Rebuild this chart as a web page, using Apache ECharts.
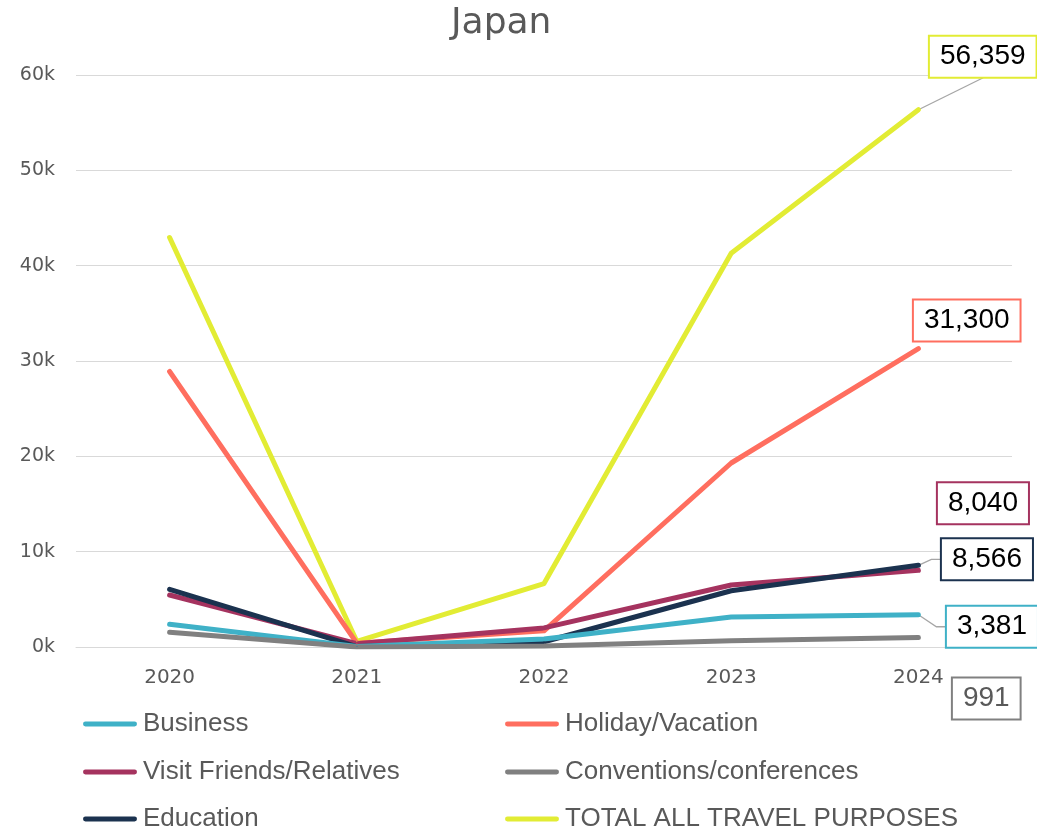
<!DOCTYPE html>
<html><head><meta charset="utf-8">
<script src="https://cdn.jsdelivr.net/npm/echarts@6/dist/echarts.min.js"></script>
<style>html,body{margin:0;padding:0;background:#fff}#c{width:1037px;height:832px}</style>
</head><body><div id="c"></div>
<script>
const years = ['2020','2021','2022','2023','2024'];
const business = [2380, 50, 850, 3150, 3381];
const holiday = [28900, 400, 1700, 19300, 31300];
const vfr = [5450, 350, 2000, 6500, 8040];
const conventions = [1540, 0, 100, 650, 991];
const education = [6050, 50, 550, 5900, 8566];
const total = [42950, 600, 6650, 41300, 56359];
const yTicks = [0, 10000, 20000, 30000, 40000, 50000, 60000];

const seriesDefs = [
  {name:'Business', data:business, color:'#3fb1c7', text:'#000', lab:{dx:28, dy:12}, line:'side'},
  {name:'Holiday/Vacation', data:holiday, color:'#ff6e5f', text:'#000', lab:{dx:-5, dy:-28}, line:null},
  {name:'Visit Friends/Relatives', data:vfr, color:'#a5335f', text:'#000', lab:{dx:19, dy:-67}, line:null},
  {name:'Conventions/conferences', data:conventions, color:'#808080', text:'#595959', lab:{dx:34, dy:61}, line:null},
  {name:'Education', data:education, color:'#1b324f', text:'#000', lab:{dx:23, dy:-6}, line:'side'},
  {name:'TOTAL ALL TRAVEL PURPOSES', data:total, color:'#e2ec34', text:'#000', lab:{dx:11, dy:-53}, line:'bottom'}
];
const order = [5,1,2,4,0,3];
const LABEL_FONT = 'Liberation Sans, Arial, sans-serif';

const chart = echarts.init(document.getElementById('c'), null, {renderer:'canvas'});
const legendPos = [[83,711],[505,711],[83,759],[505,759],[83,806],[505,806]];
const legends = seriesDefs.map((s,i)=>({
  data:[s.name], left:legendPos[i][0], top:legendPos[i][1], itemGap:0,
  icon:'path://M2,0 L52,0 A2.5,2.5 0 0 1 52,5 L2,5 A2.5,2.5 0 0 1 2,0 Z',
  itemWidth:54, itemHeight:5, selectedMode:false, padding:0,
  textStyle:{fontFamily:'Liberation Sans, Arial, sans-serif', fontSize:26, color:'#595959', padding:[0,0,0,1]}
}));

const series = order.map(i=>{
  const s = seriesDefs[i];
  const last = s.data.length-1;
  return {
    name:s.name, type:'line', symbol:'circle', symbolSize:1, showSymbol:true, smooth:false,
    lineStyle:{width:5, color:s.color, cap:'round', join:'round'},
    itemStyle:{color:s.color},
    emphasis:{disabled:true},
    data:s.data.map((v,j)=> j===last ? {value:v, label:{show:true}} : v),
    label:{show:false, position:'right', distance:0,
      formatter:p=>Number(p.value).toLocaleString('en-US'),
      fontFamily:LABEL_FONT, fontSize:28, color:s.text,
      backgroundColor:'#fff', borderColor:s.color, borderWidth:2,
      padding:[6,10,6,10], lineHeight:28},
    labelLayout:p=> p.dataIndex===last ? {dx:s.lab.dx, dy:s.lab.dy} : {},
    labelLine:{show:false},
    z: 3
  };
});

chart.setOption({
  animation:false,
  title:{text:'Japan', left:446, top:1, textStyle:{fontFamily:'DejaVu Sans, sans-serif', fontSize:36, fontWeight:'normal', color:'#595959'}},
  legend:legends,
  grid:{left:76, right:25, top:75, bottom:185, containLabel:false},
  xAxis:{type:'category', data:years, boundaryGap:true,
    axisLine:{show:true, lineStyle:{color:'#d9d9d9', width:1}}, axisTick:{show:false},
    axisLabel:{color:'#595959', fontFamily:'DejaVu Sans, sans-serif', fontSize:20, margin:21}},
  yAxis:{type:'value', min:yTicks[0], max:yTicks[yTicks.length-1], interval:10000,
    axisLine:{show:false}, axisTick:{show:false},
    splitLine:{lineStyle:{color:'#d9d9d9', width:1}},
    axisLabel:{color:'#595959', fontFamily:'DejaVu Sans, sans-serif', fontSize:19, margin:21, formatter:v=>(v/1000)+'k'}},
  series:series
});

// leader lines, derived from the chart's own scale
const ctx = document.createElement('canvas').getContext('2d');
ctx.font = '28px ' + LABEL_FONT;
const graphics = [];
seriesDefs.forEach((s,i)=>{
  if (!s.line) return;
  const last = s.data.length-1;
  const pt = chart.convertToPixel({seriesIndex: order.indexOf(i)}, [years[last], s.data[last]]);
  const w = ctx.measureText(s.data[last].toLocaleString('en-US')).width + 22;
  const h = 42;
  const left = pt[0] + s.lab.dx, cy = pt[1] + s.lab.dy;
  let pts;
  if (s.line === 'bottom') pts = [pt, [left + w/2, cy + h/2]];
  else pts = [pt, [left - 10, cy], [left, cy]];
  graphics.push({type:'polyline', shape:{points:pts}, z:2, silent:true,
    style:{stroke:'#a6a6a6', lineWidth:1.3, fill:null}});
});
chart.setOption({graphic:graphics});
</script></body></html>
